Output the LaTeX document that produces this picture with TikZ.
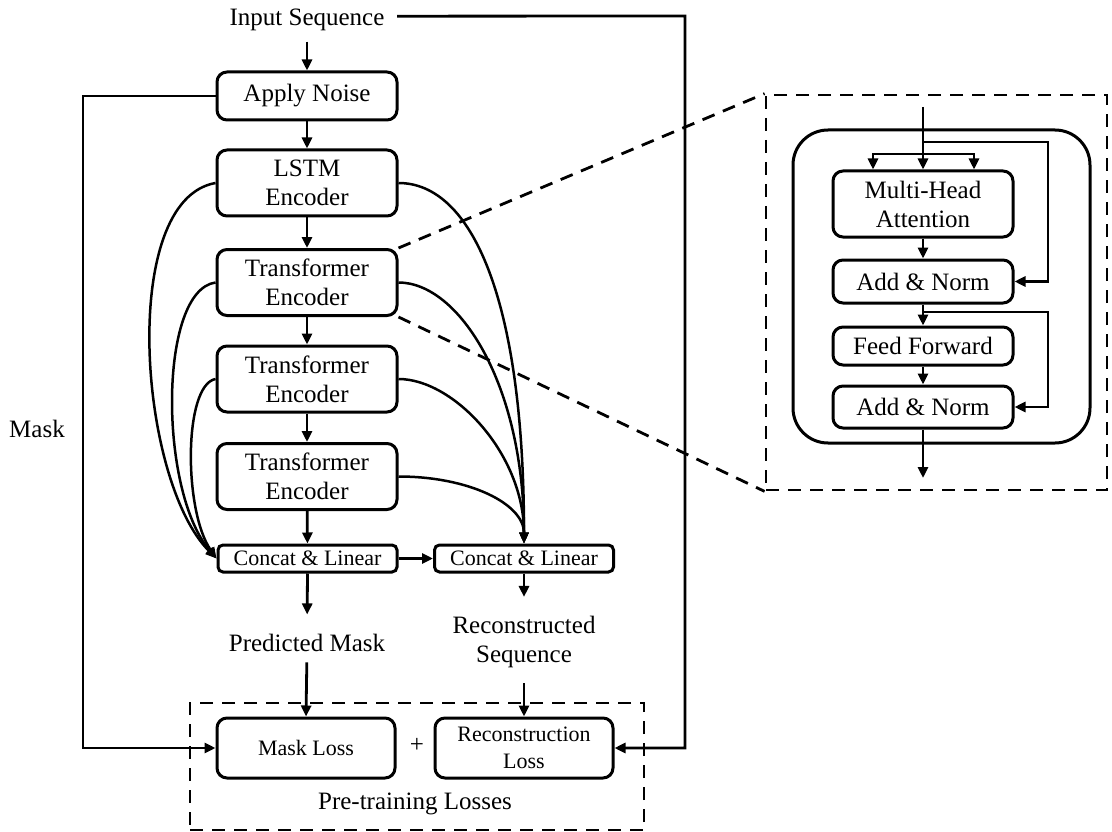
\documentclass[tikz,border=0pt]{standalone}
\usepackage{fontspec}
\setmainfont{Liberation Serif}
\usetikzlibrary{arrows.meta}
\begin{document}
\begin{tikzpicture}[x=1pt,y=-1pt,
  every node/.style={font=\fontsize{25}{29}\selectfont, inner sep=0pt, align=center},
  blk/.style={draw, line width=3pt, rounded corners=10pt, minimum width=180pt, minimum height=66pt},
  catbox/.style={draw, line width=3pt, rounded corners=5pt, minimum width=179pt, minimum height=27pt,
    font=\fontsize{22}{26}\selectfont},
  lossbox/.style={draw, line width=3pt, rounded corners=10pt, minimum width=178pt, minimum height=60pt,
    font=\fontsize{22}{27}\selectfont},
  arr/.style={line width=2.8pt, -{Triangle[length=11pt,width=10pt]}},
  curv/.style={line width=2.5pt, -{Triangle[length=11pt,width=9pt]}},
  dsh/.style={line width=2.8pt, dash pattern=on 13pt off 9pt},
]
\useasboundingbox (0,0) rectangle (1112,832);

% ---------------- main pipeline ----------------
\node[anchor=base] (input) at (307,26) {Input Sequence};
\node[blk, minimum height=48pt] (noise) at (307,96) {Apply Noise};
\node[blk] (lstm) at (307,183) {LSTM\\Encoder};
\node[blk] (t1) at (307,282.5) {Transformer\\Encoder};
\node[blk] (t2) at (307,379) {Transformer\\Encoder};
\node[blk] (t3) at (307,476.5) {Transformer\\Encoder};
\node[catbox] (c1) at (307.5,558.5) {Concat \& Linear};
\node[catbox] (c2) at (524,558.5) {Concat \& Linear};

\node[anchor=base] (pm) at (307,651) {Predicted Mask};
\node (rs) at (524,642) {Reconstructed\\Sequence};
\node[anchor=base] (masklbl) at (37,437) {Mask};

% ---------------- losses ----------------
\node[dsh, draw, minimum width=454pt, minimum height=127pt] (losses) at (417,766.5) {};
\node[lossbox] (mloss) at (306,748) {Mask Loss};
\node[lossbox] (rloss) at (524,748) {Reconstruction\\Loss};
\node (plus) at (417,745) {+};
\node[anchor=base] (ptl) at (415,809) {Pre-training Losses};

% straight connectors
\draw[arr, shorten <=10pt] (input) -- (noise);
\draw[arr] (noise) -- (lstm);
\draw[arr] (lstm) -- (t1);
\draw[arr] (t1) -- (t2);
\draw[arr] (t2) -- (t3);
\draw[arr] (t3) -- (c1);
\draw[arr] (c1) -- (c2);
\draw[arr, shorten >=19pt] (c1.south) -- (pm.north);
\draw[arr, shorten <=11pt] (pm.south) -- (mloss.north);
\draw[arr, shorten >=19pt] (c2.south) -- (rs.north);
\draw[arr, shorten <=15pt] (rs.south) -- (mloss.north -| rloss.north);

% mask side path and input side path
\coordinate (maskcorner) at (83,96);
\draw[arr] (noise.west) -- (maskcorner) |- (mloss.west);
\coordinate (inputcorner) at (685,16);
\draw[arr] ([xshift=12.5pt,yshift=4.2pt]input.east) -- (inputcorner) |- (rloss.east);

% skip connections into the first Concat & Linear
\draw[curv] (lstm.west) .. controls +(-97,17) and +(-78,-78) .. (c1.west);
\draw[curv] (t1.west) .. controls +(-57,8) and +(-58,-68) .. (c1.west);
\draw[curv] (t2.west) .. controls +(-32,6) and +(-33,-48) .. (c1.west);

% skip connections into the second Concat & Linear
\draw[curv] (lstm.east) .. controls +(73,0) and +(0,-245) .. (c2.north);
\draw[curv] (t1.east) .. controls +(60,0) and +(0,-160) .. (c2.north);
\draw[curv] (t2.east) .. controls +(55,0) and +(0,-90) .. (c2.north);
\draw[curv] (t3.east) .. controls +(70,0) and +(0,-40) .. (c2.north);

% ---------------- transformer encoder detail ----------------
\node[dsh, draw, minimum width=341pt, minimum height=395pt] (detail) at (936.5,292.5) {};
\draw[dsh] (t1.north east) -- (detail.north west);
\draw[dsh] (t1.south east) -- (detail.south west);

\node[draw, line width=3pt, rounded corners=35pt, minimum width=297pt, minimum height=313pt] (block) at (941.5,286.5) {};
\node[blk] (mha) at (923,204) {Multi-Head\\Attention};
\node[blk, minimum height=43pt] (an1) at (923,281.5) {Add \& Norm};
\node[blk, minimum height=38pt] (ff) at (923,346) {Feed Forward};
\node[blk, minimum height=42pt] (an2) at (923,407) {Add \& Norm};

\coordinate (in) at (923,107);
\coordinate (split) at (923,154);
\coordinate (res1) at (923,142);
\coordinate (res1c) at (1048,142);
\coordinate (res2) at (923,312);
\coordinate (res2c) at (1048,312);
\coordinate (out) at (923,478);

\draw[arr] (in) -- (mha.north);
\draw[arr] (split) -| ([xshift=-50pt]mha.north);
\draw[arr] (split) -| ([xshift=51pt]mha.north);
\draw[arr] (res1) -- (res1c) |- (an1.east);
\draw[arr] (mha) -- (an1);
\draw[arr] (an1) -- (ff);
\draw[arr] (ff) -- (an2);
\draw[arr] (res2) -- (res2c) |- (an2.east);
\draw[arr] (an2.south) -- (out);
\end{tikzpicture}
\end{document}
